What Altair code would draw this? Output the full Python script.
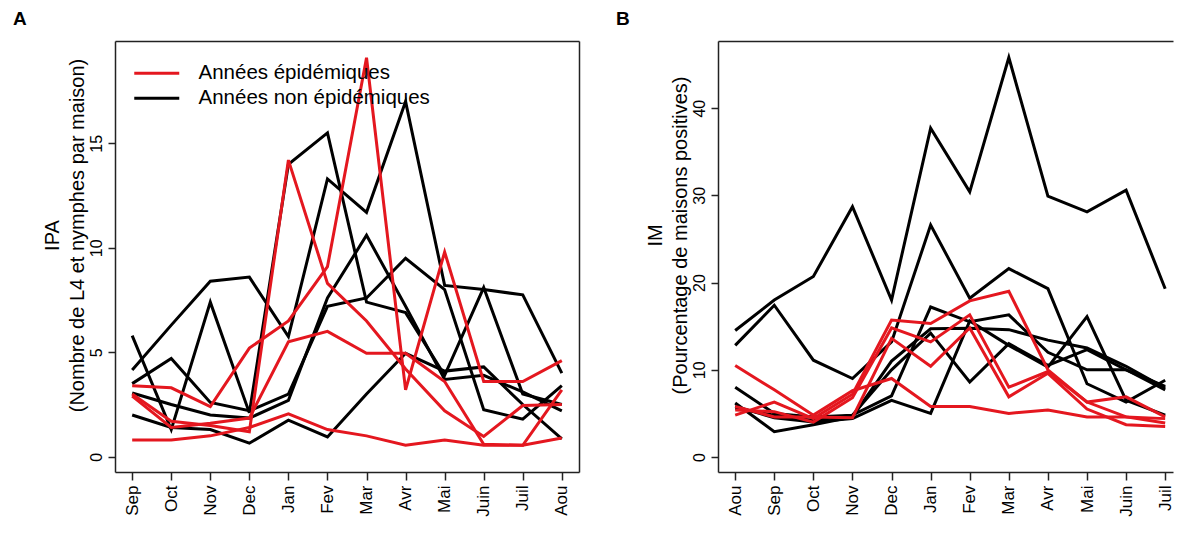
import altair as alt
import pandas as pd

# ---------------- data ----------------
MONTHS_A = ["Sep", "Oct", "Nov", "Dec", "Jan", "Fev", "Mar", "Avr", "Mai", "Juin", "Juil", "Aou"]
MONTHS_B = ["Aou", "Sep", "Oct", "Nov", "Dec", "Jan", "Fev", "Mar", "Avr", "Mai", "Juin", "Juil"]

EPI = "Années épidémiques"
NON = "Années non épidémiques"

# Panel A (IPA) - epidemic years
A_EPI_1 = [3.4, 3.3, 2.4, 5.2, 6.5, 9.1, 19.1, 3.2, 9.8, 3.6, 3.6, 4.6]
A_EPI_2 = [3.0, 1.7, 1.5, 1.2, 14.2, 8.3, 6.5, 4.2, 2.2, 0.97, 2.45, 2.5]
A_EPI_3 = [2.9, 1.4, 1.6, 1.85, 5.5, 6.0, 4.95, 4.95, 3.6, 0.6, 0.55, 3.2]
A_EPI_4 = [0.8, 0.8, 1.0, 1.4, 2.05, 1.3, 1.0, 0.55, 0.8, 0.55, 0.55, 0.9]
# Panel A - non-epidemic years
A_NON_1 = [5.8, 1.3, 7.4, 2.1, 14.0, 15.5, 7.4, 6.9, 3.9, 8.1, 3.0, 2.5]
A_NON_2 = [4.15, 6.3, 8.4, 8.6, 5.75, 13.3, 11.7, 17.0, 8.2, 8.0, 7.75, 4.0]
A_NON_3 = [3.5, 4.7, 2.6, 2.2, 3.0, 7.2, 7.6, 9.5, 8.0, 2.25, 1.8, 3.4]
A_NON_4 = [3.05, 2.5, 2.0, 1.85, 2.7, 7.6, 10.6, 7.2, 3.7, 3.9, 3.1, 2.2]
A_NON_5 = [2.0, 1.4, 1.3, 0.65, 1.75, 0.95, 3.0, 4.95, 4.1, 4.3, 2.5, 0.85]

# Panel B (IM) - epidemic years
B_EPI_1 = [10.5, 7.7, 4.8, 7.6, 9.0, 5.8, 5.8, 5.0, 5.4, 4.6, 4.6, 4.4]
B_EPI_2 = [4.8, 6.3, 4.4, 7.2, 15.7, 15.3, 17.9, 19.0, 10.0, 6.3, 4.6, 3.9]
B_EPI_3 = [5.4, 5.2, 4.0, 6.8, 14.8, 13.2, 16.3, 8.0, 9.8, 6.3, 6.9, 4.6]
B_EPI_4 = [5.8, 4.6, 4.6, 4.5, 13.6, 10.4, 14.8, 6.9, 9.6, 5.5, 3.7, 3.5]
# Panel B - non-epidemic years
B_NON_1 = [14.5, 18.0, 20.7, 28.7, 18.0, 37.7, 30.4, 45.8, 29.9, 28.1, 30.6, 19.3]
B_NON_2 = [12.8, 17.4, 11.1, 9.0, 13.2, 26.6, 18.2, 21.6, 19.3, 8.4, 6.3, 8.8]
B_NON_3 = [8.0, 5.0, 4.6, 4.8, 7.0, 17.2, 15.5, 16.3, 12.0, 10.0, 10.0, 7.7]
B_NON_4 = [6.2, 2.9, 3.7, 4.6, 11.0, 14.7, 14.75, 14.6, 13.4, 12.5, 10.4, 7.9]
B_NON_5 = [5.6, 4.8, 4.2, 4.8, 10.0, 14.2, 8.6, 13.0, 10.5, 12.3, 10.0, 8.1]
B_NON_6 = [5.8, 4.5, 4.0, 4.4, 6.5, 5.0, 15.6, 12.8, 10.3, 16.1, 6.5, 4.8]

A_TICKS = [0, 5, 10, 15]
B_TICKS = [0, 10, 20, 30, 40]

# ---------------- helpers ----------------
FONT = "Liberation Sans"
RED = "#e4171f"
BLACK = "#000000"
FRAME = "#222222"


def long_df(series, group, prefix):
    rows = []
    for k, s in enumerate(series):
        for i, v in enumerate(s):
            rows.append({"idx": i, "val": v, "series": f"{prefix}{k}", "group": group})
    return pd.DataFrame(rows)


def label_expr(months):
    arr = ",".join(f"'{m}'" for m in months)
    return f"[{arr}][datum.value]"


color_scale = alt.Scale(domain=[EPI, NON], range=[RED, BLACK])
NO_FRAME = alt.ViewBackground(strokeWidth=0, strokeOpacity=0, stroke="transparent")


def panel(df_epi, df_non, months, ydomain, yticks, ytitle, letter, width, xdomain,
          legend, right_frame):
    xs = alt.Scale(domain=xdomain, nice=False, zero=False)
    ys = alt.Scale(domain=ydomain, nice=False, zero=False)

    x_axis = alt.Axis(values=list(range(12)), labelExpr=label_expr(months),
                      tickSize=8, tickWidth=1.5, tickColor=FRAME,
                      domainColor=FRAME, domainWidth=1.5,
                      labelAngle=270, labelAlign="right", labelBaseline="middle",
                      labelPadding=5, labelFontSize=17, labelFont=FONT, labelColor="#000",
                      labelOverlap=False, labelFlush=False, grid=False, title=None)
    y_axis = alt.Axis(values=yticks, tickSize=7, tickWidth=1.5, tickColor=FRAME,
                      domainColor=FRAME, domainWidth=1.5,
                      labelAngle=270, labelAlign="center", labelBaseline="bottom",
                      labelPadding=4, labelFontSize=16, labelFont=FONT, labelColor="#000",
                      labelOverlap=False, labelFlush=False, grid=False,
                      title=ytitle, titleFont=FONT, titleFontSize=20,
                      titleFontWeight="normal", titleColor="#000",
                      titleLineHeight=25, titlePadding=1, titleY=194)

    if legend:
        leg = alt.Legend(orient="none", legendX=31.5, legendY=22, title=None,
                         symbolType="M-5,0H5", symbolSize=81, symbolStrokeWidth=3,
                         labelFont=FONT, labelFontSize=20.5, labelColor="#000",
                         labelOffset=31.5, labelLimit=500, rowPadding=4, padding=0)
    else:
        leg = None

    black = alt.Chart(df_non).mark_line(strokeWidth=3).encode(
        x=alt.X("idx:Q", scale=xs, axis=x_axis),
        y=alt.Y("val:Q", scale=ys, axis=y_axis),
        color=alt.Color("group:N", scale=color_scale, legend=leg),
        detail="series:N",
    )
    red = alt.Chart(df_epi).mark_line(strokeWidth=3).encode(
        x=alt.X("idx:Q", scale=xs, axis=None),
        y=alt.Y("val:Q", scale=ys, axis=None),
        color=alt.Color("group:N", scale=color_scale, legend=leg),
        detail="series:N",
    )
    top = alt.Chart(df_non).mark_line(strokeOpacity=0).encode(
        x=alt.X("idx:Q", scale=xs,
                axis=alt.Axis(orient="top", labels=False, ticks=False, domain=True,
                              domainColor=FRAME, domainWidth=1.5, grid=False, title=None)),
        y=alt.Y("val:Q", scale=ys, axis=None),
        detail="series:N",
    )
    layers = [black, red, top]
    if right_frame:
        right = alt.Chart(df_non).mark_line(strokeOpacity=0).encode(
            x=alt.X("idx:Q", scale=xs, axis=None),
            y=alt.Y("val:Q", scale=ys,
                    axis=alt.Axis(orient="right", labels=False, ticks=False, domain=True,
                                  domainColor=FRAME, domainWidth=1.5, grid=False,
                                  title=None)),
            detail="series:N",
        )
        layers.append(right)
    txt = alt.Chart(pd.DataFrame({"t": [letter]})).mark_text(
        align="left", baseline="top", font=FONT, fontSize=19, fontWeight="bold",
        color="#000").encode(text="t:N", x=alt.value(-102), y=alt.value(-31))
    layers.append(txt)
    return alt.layer(*layers).resolve_axis(x="independent", y="independent").properties(
        width=width, height=431, view=NO_FRAME)


dfA_epi = long_df([A_EPI_1, A_EPI_2, A_EPI_3, A_EPI_4], EPI, "ae")
dfA_non = long_df([A_NON_1, A_NON_2, A_NON_3, A_NON_4, A_NON_5], NON, "an")
dfB_epi = long_df([B_EPI_1, B_EPI_2, B_EPI_3, B_EPI_4], EPI, "be")
dfB_non = long_df([B_NON_1, B_NON_2, B_NON_3, B_NON_4, B_NON_5, B_NON_6], NON, "bn")

chartA = panel(dfA_epi, dfA_non, MONTHS_A, [-0.73, 19.9], A_TICKS,
               ["IPA", "(Nombre de L4 et nymphes par maison)"], "A", 464,
               [-0.44, 11.44], True, True)
chartB = panel(dfB_epi, dfB_non, MONTHS_B, [-1.72, 47.7], B_TICKS,
               ["IM", "(Pourcentage de maisons positives)"], "B", 455,
               [-0.44, 11.2], False, False)

chart = alt.hconcat(chartA, chartB, spacing=37).resolve_scale(color="independent").properties(
    padding={"left": 5, "top": 2, "right": 0, "bottom": 0}
).configure_view(stroke="transparent", strokeWidth=0).configure(background="white")

chart.save("out.html", embed_options={"renderer": "svg", "actions": False})
